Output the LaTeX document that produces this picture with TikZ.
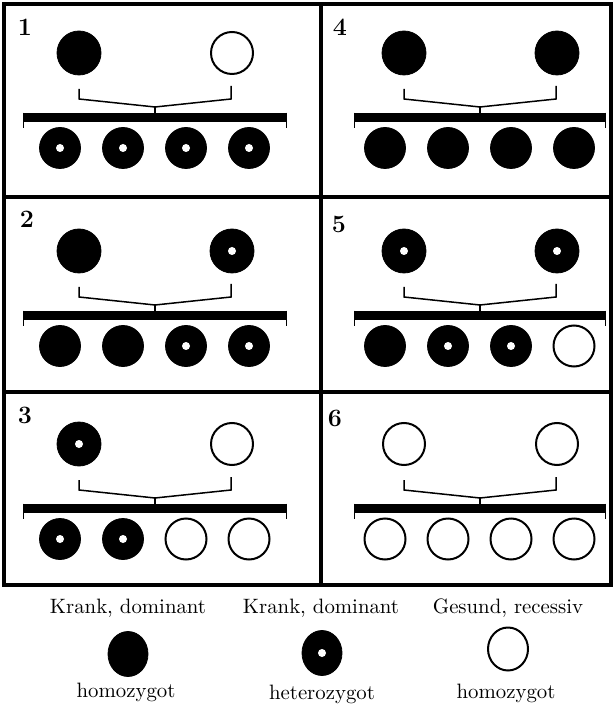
\documentclass[tikz,border=0pt]{standalone}
\usetikzlibrary{shapes.geometric}

% one crossing panel: name, shift, number position, parents, children, bar width
\newcommand{\cross}[7]{%
  \node[num] (n#1) at #3 {#1};
  \begin{scope}[shift={#2}]
    \node[#4] (l#1) at (79,53) {};
    \node[#5] (r#1) at (232,53) {};
    \coordinate (la#1) at (79,89);
    \coordinate (lb#1) at (79,99);
    \coordinate (m#1) at (155,107);
    \coordinate (rb#1) at (231,99);
    \coordinate (ra#1) at (231,86);
    \node[bar, minimum width=#7*0.5pt] (bar#1) at (155,117.5) {};
    \foreach \t [count=\i] in {#6}
      \node[\t, kid] (k#1\i) at (-3+63*\i,148) {};
  \end{scope}
  \draw[bracket] (la#1) -- (lb#1) -- (m#1) -- (rb#1) -- (ra#1);
  \draw[bracket] (m#1) -- (bar#1.north);
  \draw[tick] (bar#1.north west) -- ++(0,15);
  \draw[tick] (bar#1.north east) -- ++(0,15);
}

\begin{document}
\begin{tikzpicture}[
    x=0.5pt, y=-0.5pt,
    sick/.style={circle, fill=black, draw=black, inner sep=0pt, minimum size=22pt},
    carrier/.style={sick, path picture={\fill[white] (path picture bounding box.center) circle (2pt);}},
    healthy/.style={circle, fill=white, draw=black, line width=1pt, inner sep=0pt, minimum size=21pt},
    kid/.style={minimum size=20.5pt},
    legend/.style={ellipse, minimum width=20pt, minimum height=22.5pt},
    bar/.style={rectangle, fill=black, inner sep=0pt, minimum height=4.5pt},
    bracket/.style={line width=0.75pt},
    tick/.style={line width=0.5pt},
    frame/.style={line width=2.2pt},
    num/.style={font=\fontsize{12.5}{14}\selectfont\bfseries},
    lbl/.style={font=\fontsize{10.4}{12}\selectfont}
  ]
  \useasboundingbox (0,0) rectangle (614,704);

  % frame
  \draw[frame] (4,4) rectangle (611,585);
  \draw[frame] (321,4) -- (321,585);
  \draw[frame] (4,197) -- (611,197);
  \draw[frame] (4,392) -- (611,392);

  % panels
  \cross{1}{(0,0)}{(25,27)}{sick}{healthy}{carrier,carrier,carrier,carrier}{263}
  \cross{4}{(325,0)}{(340,27)}{sick}{sick}{sick,sick,sick,sick}{251}
  \cross{2}{(0,198)}{(27,219)}{sick}{carrier}{sick,sick,carrier,carrier}{263}
  \cross{5}{(325,198)}{(339,224)}{carrier}{carrier}{sick,carrier,carrier,healthy}{251}
  \cross{3}{(0,391)}{(25,415)}{carrier}{healthy}{carrier,carrier,healthy,healthy}{263}
  \cross{6}{(325,391)}{(335,418)}{healthy}{healthy}{healthy,healthy,healthy,healthy}{251}

  % legend
  \node[lbl] (t1) at (128,608) {Krank, dominant};
  \node[lbl] (t2) at (321,608) {Krank, dominant};
  \node[lbl] (t3) at (508,608) {Gesund, recessiv};
  \node[sick, legend] (g1) at (128,654) {};
  \node[carrier, legend] (g2) at (322,653) {};
  \node[healthy, legend, minimum height=21.5pt] (g3) at (508,649) {};
  \node[lbl] (b1) at (126,692) {homozygot};
  \node[lbl] (b2) at (322,694) {heterozygot};
  \node[lbl] (b3) at (506,693) {homozygot};
\end{tikzpicture}
\end{document}
